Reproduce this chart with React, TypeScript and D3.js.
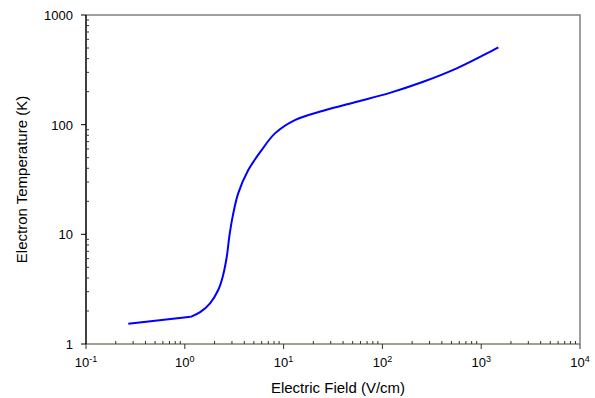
import { useEffect, useRef } from "react";
import * as d3 from "d3";

// electric field (V/cm) vs electron temperature (K)
const field = [
  0.268, 1.15, 1.43, 1.8, 2.18, 2.42, 2.66, 2.82, 3.05, 3.47, 4.39, 6.0, 8.18, 13,
  25.2, 55, 119, 259, 565, 1227, 1490,
];
const temperature = [
  1.53, 1.77, 1.95, 2.35, 3.11, 4.11, 6.25, 9.5, 14.5, 23.6, 38.6, 58.7, 83.3, 110,
  134, 162, 195, 246, 326, 462, 507,
];
const xDecades = [-1, 0, 1, 2, 3, 4];
const yTicks = [1, 10, 100, 1000];

const App = () => {
  const svgRef = useRef<SVGSVGElement>(null);

  useEffect(() => {
    const width = 595;
    const height = 398;
    const left = 86;
    const right = 580;
    const top = 15;
    const bottom = 344;

    const svg = d3.select(svgRef.current);
    svg.selectAll("*").remove();
    svg.attr("width", width).attr("height", height);

    const x = d3.scaleLog().domain([0.1, 10000]).range([left, right]);
    const y = d3.scaleLog().domain([1, 1000]).range([bottom, top]);

    const font = "Arial, 'Liberation Sans', sans-serif";

    // frame: top and right in grey
    svg
      .append("path")
      .attr("d", `M${left},${top}H${right}V${bottom}`)
      .attr("fill", "none")
      .attr("stroke", "#808080")
      .attr("stroke-width", 1.5);

    // bottom axis
    const g = svg.append("g");
    g.append("line")
      .attr("x1", left)
      .attr("x2", right)
      .attr("y1", bottom)
      .attr("y2", bottom)
      .attr("stroke", "#80806f")
      .attr("stroke-width", 1.5);

    for (let e = -1; e < 4; e++) {
      for (let m = 2; m <= 9; m++) {
        const px = x(m * Math.pow(10, e));
        g.append("line")
          .attr("x1", px)
          .attr("x2", px)
          .attr("y1", bottom)
          .attr("y2", bottom - 3)
          .attr("stroke", "#333")
          .attr("stroke-width", 1);
      }
    }
    xDecades.forEach((e) => {
      const px = x(Math.pow(10, e));
      g.append("line")
        .attr("x1", px)
        .attr("x2", px)
        .attr("y1", bottom)
        .attr("y2", bottom + 5)
        .attr("stroke", "#333")
        .attr("stroke-width", 1);
      const t = g
        .append("text")
        .attr("x", px)
        .attr("y", 367)
        .attr("text-anchor", "middle")
        .style("font-family", font)
        .style("font-size", "13px")
        .attr("fill", "#000");
      t.append("tspan").text("10");
      t.append("tspan")
        .attr("dy", -5)
        .style("font-size", "9px")
        .text(String(e));
    });

    // left axis
    svg
      .append("line")
      .attr("x1", left)
      .attr("x2", left)
      .attr("y1", top)
      .attr("y2", bottom)
      .attr("stroke", "#000")
      .attr("stroke-width", 1.5);

    for (let e = 0; e < 3; e++) {
      for (let m = 2; m <= 9; m++) {
        const py = y(m * Math.pow(10, e));
        svg
          .append("line")
          .attr("x1", left)
          .attr("x2", left + 3)
          .attr("y1", py)
          .attr("y2", py)
          .attr("stroke", "#333")
          .attr("stroke-width", 1);
      }
    }
    yTicks.forEach((v) => {
      const py = y(v);
      svg
        .append("line")
        .attr("x1", left - 5)
        .attr("x2", left)
        .attr("y1", py)
        .attr("y2", py)
        .attr("stroke", "#000")
        .attr("stroke-width", 1);
      svg
        .append("text")
        .attr("x", 73)
        .attr("y", py + 5)
        .attr("text-anchor", "end")
        .style("font-family", font)
        .style("font-size", "13px")
        .text(String(v));
    });

    // axis titles
    svg
      .append("text")
      .attr("x", 338)
      .attr("y", 393)
      .attr("text-anchor", "middle")
      .style("font-family", font)
      .style("font-size", "15px")
      .text("Electric Field (V/cm)");

    svg
      .append("text")
      .attr("transform", `translate(27,${(top + bottom) / 2}) rotate(-90)`)
      .attr("text-anchor", "middle")
      .style("font-family", font)
      .style("font-size", "15px")
      .text("Electron Temperature (K)");

    // curve: straight low-field segment, smooth after the knee
    const pts = field.map((f, i) => [f, temperature[i]] as [number, number]);
    const straight = d3
      .line<[number, number]>()
      .x((d) => x(d[0]))
      .y((d) => y(d[1]));
    const smooth = d3
      .line<[number, number]>()
      .x((d) => x(d[0]))
      .y((d) => y(d[1]))
      .curve(d3.curveCatmullRom.alpha(0.5));

    svg
      .append("path")
      .datum(pts.slice(0, 2))
      .attr("d", straight)
      .attr("fill", "none")
      .attr("stroke", "#0000ff")
      .attr("stroke-width", 2);

    svg
      .append("path")
      .datum(pts.slice(1))
      .attr("d", smooth)
      .attr("fill", "none")
      .attr("stroke", "#0000ff")
      .attr("stroke-width", 2);
  }, []);

  return (
    <div style={{ position: "absolute", left: 0, top: 0 }}>
      <svg ref={svgRef}></svg>
    </div>
  );
};

export default App;
